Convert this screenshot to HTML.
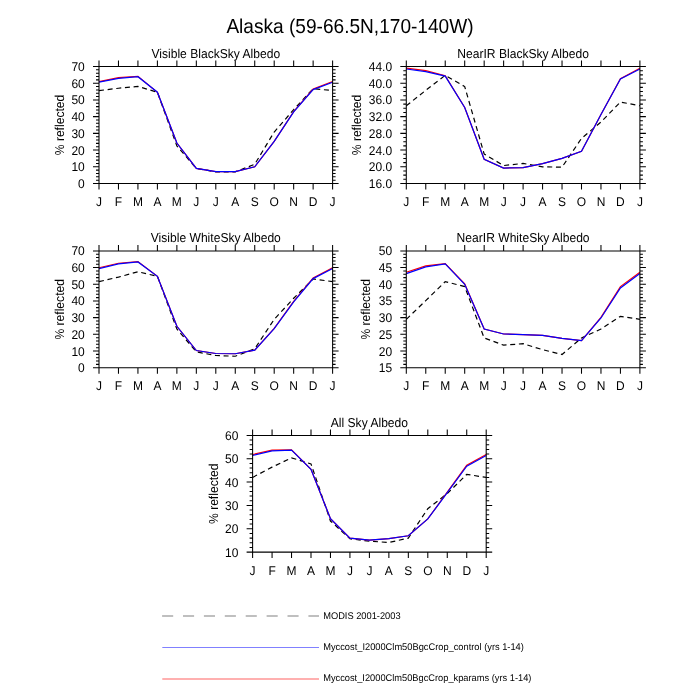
<!DOCTYPE html>
<html><head><meta charset="utf-8"><style>
html,body{margin:0;padding:0;background:#fff;width:700px;height:700px;overflow:hidden}
svg{display:block;will-change:transform}
text{font-family:"Liberation Sans", sans-serif;fill:#000;text-rendering:geometricPrecision}
</style></head><body>
<svg width="700" height="700" viewBox="0 0 700 700">
<text x="226.4" y="32.6" font-size="20.2" textLength="247.2" lengthAdjust="spacingAndGlyphs">Alaska (59-66.5N,170-140W)</text>
<text transform="translate(215.8 57.6) scale(0.934 1)" font-size="12.95" text-anchor="middle">Visible BlackSky Albedo</text>
<polyline points="99,90.57 118.47,88.23 137.93,86.39 157.4,92.24 176.87,145.89 196.33,168.46 215.8,171.8 235.27,171.8 254.73,164.28 274.2,132.02 293.67,109.62 313.13,88.73 332.6,90.57" fill="none" stroke="#000" stroke-width="1.2" stroke-dasharray="5 3.7"/>
<polyline points="99,81.54 118.47,77.7 137.93,76.36 157.4,92.24 176.87,143.05 196.33,168.46 215.8,171.7 235.27,171.7 254.73,166.79 274.2,141.38 293.67,111.63 313.13,89.06 332.6,81.54" fill="none" stroke="#f00" stroke-width="1.2"/>
<polyline points="99,82.21 118.47,78.37 137.93,76.7 157.4,92.24 176.87,143.05 196.33,168.46 215.8,171.7 235.27,171.7 254.73,166.79 274.2,141.38 293.67,111.96 313.13,89.57 332.6,82.21" fill="none" stroke="#00f" stroke-width="1.2"/>
<path d="M99 66.5H332.6V183.5H99ZM99 66.5v-6M99 183.5v6M118.47 66.5v-6M118.47 183.5v6M137.93 66.5v-6M137.93 183.5v6M157.4 66.5v-6M157.4 183.5v6M176.87 66.5v-6M176.87 183.5v6M196.33 66.5v-6M196.33 183.5v6M215.8 66.5v-6M215.8 183.5v6M235.27 66.5v-6M235.27 183.5v6M254.73 66.5v-6M254.73 183.5v6M274.2 66.5v-6M274.2 183.5v6M293.67 66.5v-6M293.67 183.5v6M313.13 66.5v-6M313.13 183.5v6M332.6 66.5v-6M332.6 183.5v6M99 183.5h-6M332.6 183.5h6M99 180.16h-3M332.6 180.16h3M99 176.81h-3M332.6 176.81h3M99 173.47h-3M332.6 173.47h3M99 170.13h-3M332.6 170.13h3M99 166.79h-6M332.6 166.79h6M99 163.44h-3M332.6 163.44h3M99 160.1h-3M332.6 160.1h3M99 156.76h-3M332.6 156.76h3M99 153.41h-3M332.6 153.41h3M99 150.07h-6M332.6 150.07h6M99 146.73h-3M332.6 146.73h3M99 143.39h-3M332.6 143.39h3M99 140.04h-3M332.6 140.04h3M99 136.7h-3M332.6 136.7h3M99 133.36h-6M332.6 133.36h6M99 130.01h-3M332.6 130.01h3M99 126.67h-3M332.6 126.67h3M99 123.33h-3M332.6 123.33h3M99 119.99h-3M332.6 119.99h3M99 116.64h-6M332.6 116.64h6M99 113.3h-3M332.6 113.3h3M99 109.96h-3M332.6 109.96h3M99 106.61h-3M332.6 106.61h3M99 103.27h-3M332.6 103.27h3M99 99.93h-6M332.6 99.93h6M99 96.59h-3M332.6 96.59h3M99 93.24h-3M332.6 93.24h3M99 89.9h-3M332.6 89.9h3M99 86.56h-3M332.6 86.56h3M99 83.21h-6M332.6 83.21h6M99 79.87h-3M332.6 79.87h3M99 76.53h-3M332.6 76.53h3M99 73.19h-3M332.6 73.19h3M99 69.84h-3M332.6 69.84h3M99 66.5h-6M332.6 66.5h6" fill="none" stroke="#000" stroke-width="1.05"/>
<text transform="translate(84.8 188) scale(0.952 1)" font-size="12.6" text-anchor="end">0</text>
<text transform="translate(84.8 171.29) scale(0.952 1)" font-size="12.6" text-anchor="end">10</text>
<text transform="translate(84.8 154.57) scale(0.952 1)" font-size="12.6" text-anchor="end">20</text>
<text transform="translate(84.8 137.86) scale(0.952 1)" font-size="12.6" text-anchor="end">30</text>
<text transform="translate(84.8 121.14) scale(0.952 1)" font-size="12.6" text-anchor="end">40</text>
<text transform="translate(84.8 104.43) scale(0.952 1)" font-size="12.6" text-anchor="end">50</text>
<text transform="translate(84.8 87.71) scale(0.952 1)" font-size="12.6" text-anchor="end">60</text>
<text transform="translate(84.8 71) scale(0.952 1)" font-size="12.6" text-anchor="end">70</text>
<text transform="translate(99 206.2) scale(0.952 1)" font-size="12.6" text-anchor="middle">J</text>
<text transform="translate(118.47 206.2) scale(0.952 1)" font-size="12.6" text-anchor="middle">F</text>
<text transform="translate(137.93 206.2) scale(0.952 1)" font-size="12.6" text-anchor="middle">M</text>
<text transform="translate(157.4 206.2) scale(0.952 1)" font-size="12.6" text-anchor="middle">A</text>
<text transform="translate(176.87 206.2) scale(0.952 1)" font-size="12.6" text-anchor="middle">M</text>
<text transform="translate(196.33 206.2) scale(0.952 1)" font-size="12.6" text-anchor="middle">J</text>
<text transform="translate(215.8 206.2) scale(0.952 1)" font-size="12.6" text-anchor="middle">J</text>
<text transform="translate(235.27 206.2) scale(0.952 1)" font-size="12.6" text-anchor="middle">A</text>
<text transform="translate(254.73 206.2) scale(0.952 1)" font-size="12.6" text-anchor="middle">S</text>
<text transform="translate(274.2 206.2) scale(0.952 1)" font-size="12.6" text-anchor="middle">O</text>
<text transform="translate(293.67 206.2) scale(0.952 1)" font-size="12.6" text-anchor="middle">N</text>
<text transform="translate(313.13 206.2) scale(0.952 1)" font-size="12.6" text-anchor="middle">D</text>
<text transform="translate(332.6 206.2) scale(0.952 1)" font-size="12.6" text-anchor="middle">J</text>
<text transform="translate(523.1 57.6) scale(0.934 1)" font-size="12.95" text-anchor="middle">NearIR BlackSky Albedo</text>
<polyline points="406.3,105.78 425.77,90.32 445.23,75.28 464.7,86.56 484.17,154.04 503.63,165.53 523.1,163.44 542.57,166.79 562.03,167.2 581.5,138.37 600.97,122.08 620.43,102.02 639.9,105.78" fill="none" stroke="#000" stroke-width="1.2" stroke-dasharray="5 3.7"/>
<polyline points="406.3,68.17 425.77,70.68 445.23,75.69 464.7,107.45 484.17,159.26 503.63,168.04 523.1,167.62 542.57,163.65 562.03,158.43 581.5,151.32 600.97,114.55 620.43,78.62 639.9,68.17" fill="none" stroke="#f00" stroke-width="1.2"/>
<polyline points="406.3,69.01 425.77,71.6 445.23,76.11 464.7,107.45 484.17,159.26 503.63,168.04 523.1,167.62 542.57,163.65 562.03,158.43 581.5,151.32 600.97,114.55 620.43,79.04 639.9,69.01" fill="none" stroke="#00f" stroke-width="1.2"/>
<path d="M406.3 66.5H639.9V183.5H406.3ZM406.3 66.5v-6M406.3 183.5v6M425.77 66.5v-6M425.77 183.5v6M445.23 66.5v-6M445.23 183.5v6M464.7 66.5v-6M464.7 183.5v6M484.17 66.5v-6M484.17 183.5v6M503.63 66.5v-6M503.63 183.5v6M523.1 66.5v-6M523.1 183.5v6M542.57 66.5v-6M542.57 183.5v6M562.03 66.5v-6M562.03 183.5v6M581.5 66.5v-6M581.5 183.5v6M600.97 66.5v-6M600.97 183.5v6M620.43 66.5v-6M620.43 183.5v6M639.9 66.5v-6M639.9 183.5v6M406.3 183.5h-6M639.9 183.5h6M406.3 179.32h-3M639.9 179.32h3M406.3 175.14h-3M639.9 175.14h3M406.3 170.96h-3M639.9 170.96h3M406.3 166.79h-6M639.9 166.79h6M406.3 162.61h-3M639.9 162.61h3M406.3 158.43h-3M639.9 158.43h3M406.3 154.25h-3M639.9 154.25h3M406.3 150.07h-6M639.9 150.07h6M406.3 145.89h-3M639.9 145.89h3M406.3 141.71h-3M639.9 141.71h3M406.3 137.54h-3M639.9 137.54h3M406.3 133.36h-6M639.9 133.36h6M406.3 129.18h-3M639.9 129.18h3M406.3 125h-3M639.9 125h3M406.3 120.82h-3M639.9 120.82h3M406.3 116.64h-6M639.9 116.64h6M406.3 112.46h-3M639.9 112.46h3M406.3 108.29h-3M639.9 108.29h3M406.3 104.11h-3M639.9 104.11h3M406.3 99.93h-6M639.9 99.93h6M406.3 95.75h-3M639.9 95.75h3M406.3 91.57h-3M639.9 91.57h3M406.3 87.39h-3M639.9 87.39h3M406.3 83.21h-6M639.9 83.21h6M406.3 79.04h-3M639.9 79.04h3M406.3 74.86h-3M639.9 74.86h3M406.3 70.68h-3M639.9 70.68h3M406.3 66.5h-6M639.9 66.5h6" fill="none" stroke="#000" stroke-width="1.05"/>
<text transform="translate(392.1 188) scale(0.952 1)" font-size="12.6" text-anchor="end">16.0</text>
<text transform="translate(392.1 171.29) scale(0.952 1)" font-size="12.6" text-anchor="end">20.0</text>
<text transform="translate(392.1 154.57) scale(0.952 1)" font-size="12.6" text-anchor="end">24.0</text>
<text transform="translate(392.1 137.86) scale(0.952 1)" font-size="12.6" text-anchor="end">28.0</text>
<text transform="translate(392.1 121.14) scale(0.952 1)" font-size="12.6" text-anchor="end">32.0</text>
<text transform="translate(392.1 104.43) scale(0.952 1)" font-size="12.6" text-anchor="end">36.0</text>
<text transform="translate(392.1 87.71) scale(0.952 1)" font-size="12.6" text-anchor="end">40.0</text>
<text transform="translate(392.1 71) scale(0.952 1)" font-size="12.6" text-anchor="end">44.0</text>
<text transform="translate(406.3 206.2) scale(0.952 1)" font-size="12.6" text-anchor="middle">J</text>
<text transform="translate(425.77 206.2) scale(0.952 1)" font-size="12.6" text-anchor="middle">F</text>
<text transform="translate(445.23 206.2) scale(0.952 1)" font-size="12.6" text-anchor="middle">M</text>
<text transform="translate(464.7 206.2) scale(0.952 1)" font-size="12.6" text-anchor="middle">A</text>
<text transform="translate(484.17 206.2) scale(0.952 1)" font-size="12.6" text-anchor="middle">M</text>
<text transform="translate(503.63 206.2) scale(0.952 1)" font-size="12.6" text-anchor="middle">J</text>
<text transform="translate(523.1 206.2) scale(0.952 1)" font-size="12.6" text-anchor="middle">J</text>
<text transform="translate(542.57 206.2) scale(0.952 1)" font-size="12.6" text-anchor="middle">A</text>
<text transform="translate(562.03 206.2) scale(0.952 1)" font-size="12.6" text-anchor="middle">S</text>
<text transform="translate(581.5 206.2) scale(0.952 1)" font-size="12.6" text-anchor="middle">O</text>
<text transform="translate(600.97 206.2) scale(0.952 1)" font-size="12.6" text-anchor="middle">N</text>
<text transform="translate(620.43 206.2) scale(0.952 1)" font-size="12.6" text-anchor="middle">D</text>
<text transform="translate(639.9 206.2) scale(0.952 1)" font-size="12.6" text-anchor="middle">J</text>
<text transform="translate(215.8 242) scale(0.934 1)" font-size="12.95" text-anchor="middle">Visible WhiteSky Albedo</text>
<polyline points="99,281.6 118.47,277.1 137.93,271.76 157.4,276.26 176.87,328.99 196.33,351.85 215.8,355.52 235.27,356.27 254.73,348.85 274.2,319.31 293.67,298.29 313.13,278.93 332.6,281.6" fill="none" stroke="#000" stroke-width="1.2" stroke-dasharray="5 3.7"/>
<polyline points="99,267.75 118.47,263.25 137.93,261.58 157.4,276.26 176.87,326.32 196.33,350.51 215.8,353.52 235.27,353.77 254.73,350.18 274.2,328.32 293.67,301.46 313.13,277.93 332.6,267.75" fill="none" stroke="#f00" stroke-width="1.2"/>
<polyline points="99,268.59 118.47,263.91 137.93,261.91 157.4,276.26 176.87,326.32 196.33,350.51 215.8,353.52 235.27,353.77 254.73,350.18 274.2,328.66 293.67,301.96 313.13,278.6 332.6,268.59" fill="none" stroke="#00f" stroke-width="1.2"/>
<path d="M99 250.9H332.6V367.7H99ZM99 250.9v-6M99 367.7v6M118.47 250.9v-6M118.47 367.7v6M137.93 250.9v-6M137.93 367.7v6M157.4 250.9v-6M157.4 367.7v6M176.87 250.9v-6M176.87 367.7v6M196.33 250.9v-6M196.33 367.7v6M215.8 250.9v-6M215.8 367.7v6M235.27 250.9v-6M235.27 367.7v6M254.73 250.9v-6M254.73 367.7v6M274.2 250.9v-6M274.2 367.7v6M293.67 250.9v-6M293.67 367.7v6M313.13 250.9v-6M313.13 367.7v6M332.6 250.9v-6M332.6 367.7v6M99 367.7h-6M332.6 367.7h6M99 364.36h-3M332.6 364.36h3M99 361.03h-3M332.6 361.03h3M99 357.69h-3M332.6 357.69h3M99 354.35h-3M332.6 354.35h3M99 351.01h-6M332.6 351.01h6M99 347.68h-3M332.6 347.68h3M99 344.34h-3M332.6 344.34h3M99 341h-3M332.6 341h3M99 337.67h-3M332.6 337.67h3M99 334.33h-6M332.6 334.33h6M99 330.99h-3M332.6 330.99h3M99 327.65h-3M332.6 327.65h3M99 324.32h-3M332.6 324.32h3M99 320.98h-3M332.6 320.98h3M99 317.64h-6M332.6 317.64h6M99 314.31h-3M332.6 314.31h3M99 310.97h-3M332.6 310.97h3M99 307.63h-3M332.6 307.63h3M99 304.29h-3M332.6 304.29h3M99 300.96h-6M332.6 300.96h6M99 297.62h-3M332.6 297.62h3M99 294.28h-3M332.6 294.28h3M99 290.95h-3M332.6 290.95h3M99 287.61h-3M332.6 287.61h3M99 284.27h-6M332.6 284.27h6M99 280.93h-3M332.6 280.93h3M99 277.6h-3M332.6 277.6h3M99 274.26h-3M332.6 274.26h3M99 270.92h-3M332.6 270.92h3M99 267.59h-6M332.6 267.59h6M99 264.25h-3M332.6 264.25h3M99 260.91h-3M332.6 260.91h3M99 257.57h-3M332.6 257.57h3M99 254.24h-3M332.6 254.24h3M99 250.9h-6M332.6 250.9h6" fill="none" stroke="#000" stroke-width="1.05"/>
<text transform="translate(84.8 372.2) scale(0.952 1)" font-size="12.6" text-anchor="end">0</text>
<text transform="translate(84.8 355.51) scale(0.952 1)" font-size="12.6" text-anchor="end">10</text>
<text transform="translate(84.8 338.83) scale(0.952 1)" font-size="12.6" text-anchor="end">20</text>
<text transform="translate(84.8 322.14) scale(0.952 1)" font-size="12.6" text-anchor="end">30</text>
<text transform="translate(84.8 305.46) scale(0.952 1)" font-size="12.6" text-anchor="end">40</text>
<text transform="translate(84.8 288.77) scale(0.952 1)" font-size="12.6" text-anchor="end">50</text>
<text transform="translate(84.8 272.09) scale(0.952 1)" font-size="12.6" text-anchor="end">60</text>
<text transform="translate(84.8 255.4) scale(0.952 1)" font-size="12.6" text-anchor="end">70</text>
<text transform="translate(99 390.4) scale(0.952 1)" font-size="12.6" text-anchor="middle">J</text>
<text transform="translate(118.47 390.4) scale(0.952 1)" font-size="12.6" text-anchor="middle">F</text>
<text transform="translate(137.93 390.4) scale(0.952 1)" font-size="12.6" text-anchor="middle">M</text>
<text transform="translate(157.4 390.4) scale(0.952 1)" font-size="12.6" text-anchor="middle">A</text>
<text transform="translate(176.87 390.4) scale(0.952 1)" font-size="12.6" text-anchor="middle">M</text>
<text transform="translate(196.33 390.4) scale(0.952 1)" font-size="12.6" text-anchor="middle">J</text>
<text transform="translate(215.8 390.4) scale(0.952 1)" font-size="12.6" text-anchor="middle">J</text>
<text transform="translate(235.27 390.4) scale(0.952 1)" font-size="12.6" text-anchor="middle">A</text>
<text transform="translate(254.73 390.4) scale(0.952 1)" font-size="12.6" text-anchor="middle">S</text>
<text transform="translate(274.2 390.4) scale(0.952 1)" font-size="12.6" text-anchor="middle">O</text>
<text transform="translate(293.67 390.4) scale(0.952 1)" font-size="12.6" text-anchor="middle">N</text>
<text transform="translate(313.13 390.4) scale(0.952 1)" font-size="12.6" text-anchor="middle">D</text>
<text transform="translate(332.6 390.4) scale(0.952 1)" font-size="12.6" text-anchor="middle">J</text>
<text transform="translate(523.1 242) scale(0.934 1)" font-size="12.95" text-anchor="middle">NearIR WhiteSky Albedo</text>
<polyline points="406.3,319.31 425.77,300.62 445.23,281.6 464.7,286.61 484.17,338 503.63,345.17 523.1,343.67 542.57,349.68 562.03,354.48 581.5,338 600.97,328.99 620.43,316.31 639.9,319.31" fill="none" stroke="#000" stroke-width="1.2" stroke-dasharray="5 3.7"/>
<polyline points="406.3,272.26 425.77,265.92 445.23,263.58 464.7,283.94 484.17,328.99 503.63,333.99 523.1,334.66 542.57,335.33 562.03,338.33 581.5,340.67 600.97,317.31 620.43,286.61 639.9,272.26" fill="none" stroke="#f00" stroke-width="1.2"/>
<polyline points="406.3,273.59 425.77,266.92 445.23,263.91 464.7,284.27 484.17,328.99 503.63,333.99 523.1,334.66 542.57,335.33 562.03,338.33 581.5,340.67 600.97,317.98 620.43,287.94 639.9,273.59" fill="none" stroke="#00f" stroke-width="1.2"/>
<path d="M406.3 250.9H639.9V367.7H406.3ZM406.3 250.9v-6M406.3 367.7v6M425.77 250.9v-6M425.77 367.7v6M445.23 250.9v-6M445.23 367.7v6M464.7 250.9v-6M464.7 367.7v6M484.17 250.9v-6M484.17 367.7v6M503.63 250.9v-6M503.63 367.7v6M523.1 250.9v-6M523.1 367.7v6M542.57 250.9v-6M542.57 367.7v6M562.03 250.9v-6M562.03 367.7v6M581.5 250.9v-6M581.5 367.7v6M600.97 250.9v-6M600.97 367.7v6M620.43 250.9v-6M620.43 367.7v6M639.9 250.9v-6M639.9 367.7v6M406.3 367.7h-6M639.9 367.7h6M406.3 364.36h-3M639.9 364.36h3M406.3 361.03h-3M639.9 361.03h3M406.3 357.69h-3M639.9 357.69h3M406.3 354.35h-3M639.9 354.35h3M406.3 351.01h-6M639.9 351.01h6M406.3 347.68h-3M639.9 347.68h3M406.3 344.34h-3M639.9 344.34h3M406.3 341h-3M639.9 341h3M406.3 337.67h-3M639.9 337.67h3M406.3 334.33h-6M639.9 334.33h6M406.3 330.99h-3M639.9 330.99h3M406.3 327.65h-3M639.9 327.65h3M406.3 324.32h-3M639.9 324.32h3M406.3 320.98h-3M639.9 320.98h3M406.3 317.64h-6M639.9 317.64h6M406.3 314.31h-3M639.9 314.31h3M406.3 310.97h-3M639.9 310.97h3M406.3 307.63h-3M639.9 307.63h3M406.3 304.29h-3M639.9 304.29h3M406.3 300.96h-6M639.9 300.96h6M406.3 297.62h-3M639.9 297.62h3M406.3 294.28h-3M639.9 294.28h3M406.3 290.95h-3M639.9 290.95h3M406.3 287.61h-3M639.9 287.61h3M406.3 284.27h-6M639.9 284.27h6M406.3 280.93h-3M639.9 280.93h3M406.3 277.6h-3M639.9 277.6h3M406.3 274.26h-3M639.9 274.26h3M406.3 270.92h-3M639.9 270.92h3M406.3 267.59h-6M639.9 267.59h6M406.3 264.25h-3M639.9 264.25h3M406.3 260.91h-3M639.9 260.91h3M406.3 257.57h-3M639.9 257.57h3M406.3 254.24h-3M639.9 254.24h3M406.3 250.9h-6M639.9 250.9h6" fill="none" stroke="#000" stroke-width="1.05"/>
<text transform="translate(392.1 372.2) scale(0.952 1)" font-size="12.6" text-anchor="end">15</text>
<text transform="translate(392.1 355.51) scale(0.952 1)" font-size="12.6" text-anchor="end">20</text>
<text transform="translate(392.1 338.83) scale(0.952 1)" font-size="12.6" text-anchor="end">25</text>
<text transform="translate(392.1 322.14) scale(0.952 1)" font-size="12.6" text-anchor="end">30</text>
<text transform="translate(392.1 305.46) scale(0.952 1)" font-size="12.6" text-anchor="end">35</text>
<text transform="translate(392.1 288.77) scale(0.952 1)" font-size="12.6" text-anchor="end">40</text>
<text transform="translate(392.1 272.09) scale(0.952 1)" font-size="12.6" text-anchor="end">45</text>
<text transform="translate(392.1 255.4) scale(0.952 1)" font-size="12.6" text-anchor="end">50</text>
<text transform="translate(406.3 390.4) scale(0.952 1)" font-size="12.6" text-anchor="middle">J</text>
<text transform="translate(425.77 390.4) scale(0.952 1)" font-size="12.6" text-anchor="middle">F</text>
<text transform="translate(445.23 390.4) scale(0.952 1)" font-size="12.6" text-anchor="middle">M</text>
<text transform="translate(464.7 390.4) scale(0.952 1)" font-size="12.6" text-anchor="middle">A</text>
<text transform="translate(484.17 390.4) scale(0.952 1)" font-size="12.6" text-anchor="middle">M</text>
<text transform="translate(503.63 390.4) scale(0.952 1)" font-size="12.6" text-anchor="middle">J</text>
<text transform="translate(523.1 390.4) scale(0.952 1)" font-size="12.6" text-anchor="middle">J</text>
<text transform="translate(542.57 390.4) scale(0.952 1)" font-size="12.6" text-anchor="middle">A</text>
<text transform="translate(562.03 390.4) scale(0.952 1)" font-size="12.6" text-anchor="middle">S</text>
<text transform="translate(581.5 390.4) scale(0.952 1)" font-size="12.6" text-anchor="middle">O</text>
<text transform="translate(600.97 390.4) scale(0.952 1)" font-size="12.6" text-anchor="middle">N</text>
<text transform="translate(620.43 390.4) scale(0.952 1)" font-size="12.6" text-anchor="middle">D</text>
<text transform="translate(639.9 390.4) scale(0.952 1)" font-size="12.6" text-anchor="middle">J</text>
<text transform="translate(369.4 426.5) scale(0.934 1)" font-size="12.95" text-anchor="middle">All Sky Albedo</text>
<polyline points="252.6,477.41 272.07,467.14 291.53,457.81 311,463.87 330.47,521.06 349.93,538.8 369.4,541.13 388.87,542.53 408.33,538.1 427.8,508.69 447.27,493.52 466.73,474.38 486.2,477.41" fill="none" stroke="#000" stroke-width="1.2" stroke-dasharray="5 3.7"/>
<polyline points="252.6,454.54 272.07,450.1 291.53,449.87 311,469.24 330.47,518.72 349.93,538.1 369.4,540.2 388.87,538.56 408.33,535.76 427.8,518.96 447.27,492.12 466.73,465.28 486.2,454.54" fill="none" stroke="#f00" stroke-width="1.2"/>
<polyline points="252.6,455.47 272.07,450.8 291.53,450.1 311,469.24 330.47,518.72 349.93,538.1 369.4,540.2 388.87,538.56 408.33,535.76 427.8,518.96 447.27,492.58 466.73,466.21 486.2,455.47" fill="none" stroke="#00f" stroke-width="1.2"/>
<path d="M252.6 435.4H486.2V552.1H252.6ZM252.6 435.4v-6M252.6 552.1v6M272.07 435.4v-6M272.07 552.1v6M291.53 435.4v-6M291.53 552.1v6M311 435.4v-6M311 552.1v6M330.47 435.4v-6M330.47 552.1v6M349.93 435.4v-6M349.93 552.1v6M369.4 435.4v-6M369.4 552.1v6M388.87 435.4v-6M388.87 552.1v6M408.33 435.4v-6M408.33 552.1v6M427.8 435.4v-6M427.8 552.1v6M447.27 435.4v-6M447.27 552.1v6M466.73 435.4v-6M466.73 552.1v6M486.2 435.4v-6M486.2 552.1v6M252.6 552.1h-6M486.2 552.1h6M252.6 547.43h-3M486.2 547.43h3M252.6 542.76h-3M486.2 542.76h3M252.6 538.1h-3M486.2 538.1h3M252.6 533.43h-3M486.2 533.43h3M252.6 528.76h-6M486.2 528.76h6M252.6 524.09h-3M486.2 524.09h3M252.6 519.42h-3M486.2 519.42h3M252.6 514.76h-3M486.2 514.76h3M252.6 510.09h-3M486.2 510.09h3M252.6 505.42h-6M486.2 505.42h6M252.6 500.75h-3M486.2 500.75h3M252.6 496.08h-3M486.2 496.08h3M252.6 491.42h-3M486.2 491.42h3M252.6 486.75h-3M486.2 486.75h3M252.6 482.08h-6M486.2 482.08h6M252.6 477.41h-3M486.2 477.41h3M252.6 472.74h-3M486.2 472.74h3M252.6 468.08h-3M486.2 468.08h3M252.6 463.41h-3M486.2 463.41h3M252.6 458.74h-6M486.2 458.74h6M252.6 454.07h-3M486.2 454.07h3M252.6 449.4h-3M486.2 449.4h3M252.6 444.74h-3M486.2 444.74h3M252.6 440.07h-3M486.2 440.07h3M252.6 435.4h-6M486.2 435.4h6" fill="none" stroke="#000" stroke-width="1.05"/>
<text transform="translate(238.4 556.6) scale(0.952 1)" font-size="12.6" text-anchor="end">10</text>
<text transform="translate(238.4 533.26) scale(0.952 1)" font-size="12.6" text-anchor="end">20</text>
<text transform="translate(238.4 509.92) scale(0.952 1)" font-size="12.6" text-anchor="end">30</text>
<text transform="translate(238.4 486.58) scale(0.952 1)" font-size="12.6" text-anchor="end">40</text>
<text transform="translate(238.4 463.24) scale(0.952 1)" font-size="12.6" text-anchor="end">50</text>
<text transform="translate(238.4 439.9) scale(0.952 1)" font-size="12.6" text-anchor="end">60</text>
<text transform="translate(252.6 574.8) scale(0.952 1)" font-size="12.6" text-anchor="middle">J</text>
<text transform="translate(272.07 574.8) scale(0.952 1)" font-size="12.6" text-anchor="middle">F</text>
<text transform="translate(291.53 574.8) scale(0.952 1)" font-size="12.6" text-anchor="middle">M</text>
<text transform="translate(311 574.8) scale(0.952 1)" font-size="12.6" text-anchor="middle">A</text>
<text transform="translate(330.47 574.8) scale(0.952 1)" font-size="12.6" text-anchor="middle">M</text>
<text transform="translate(349.93 574.8) scale(0.952 1)" font-size="12.6" text-anchor="middle">J</text>
<text transform="translate(369.4 574.8) scale(0.952 1)" font-size="12.6" text-anchor="middle">J</text>
<text transform="translate(388.87 574.8) scale(0.952 1)" font-size="12.6" text-anchor="middle">A</text>
<text transform="translate(408.33 574.8) scale(0.952 1)" font-size="12.6" text-anchor="middle">S</text>
<text transform="translate(427.8 574.8) scale(0.952 1)" font-size="12.6" text-anchor="middle">O</text>
<text transform="translate(447.27 574.8) scale(0.952 1)" font-size="12.6" text-anchor="middle">N</text>
<text transform="translate(466.73 574.8) scale(0.952 1)" font-size="12.6" text-anchor="middle">D</text>
<text transform="translate(486.2 574.8) scale(0.952 1)" font-size="12.6" text-anchor="middle">J</text>
<text transform="translate(63.8 125) rotate(-90) scale(0.934 1)" font-size="12.95" text-anchor="middle">% reflected</text>
<text transform="translate(361.4 125) rotate(-90) scale(0.934 1)" font-size="12.95" text-anchor="middle">% reflected</text>
<text transform="translate(63.8 309.3) rotate(-90) scale(0.934 1)" font-size="12.95" text-anchor="middle">% reflected</text>
<text transform="translate(370.4 309.3) rotate(-90) scale(0.934 1)" font-size="12.95" text-anchor="middle">% reflected</text>
<text transform="translate(217.6 493.75) rotate(-90) scale(0.934 1)" font-size="12.95" text-anchor="middle">% reflected</text>
<path d="M162.1 616H319" fill="none" stroke="#aaa" stroke-width="1.6" stroke-dasharray="11.1 9.8"/>
<path d="M162.3 647.5H319" fill="none" stroke="#8080ff" stroke-width="1"/>
<path d="M162.3 679H319" fill="none" stroke="#ffb0b0" stroke-width="1.8"/>
<text x="323.2" y="618.9" font-size="9.7" textLength="77.4" lengthAdjust="spacingAndGlyphs">MODIS 2001-2003</text>
<text x="323.2" y="649.8" font-size="9.7" textLength="200.7" lengthAdjust="spacingAndGlyphs">Myccost_I2000Clm50BgcCrop_control (yrs 1-14)</text>
<text x="323.2" y="681.2" font-size="9.7" textLength="208.2" lengthAdjust="spacingAndGlyphs">Myccost_I2000Clm50BgcCrop_kparams (yrs 1-14)</text>
</svg>
</body></html>
